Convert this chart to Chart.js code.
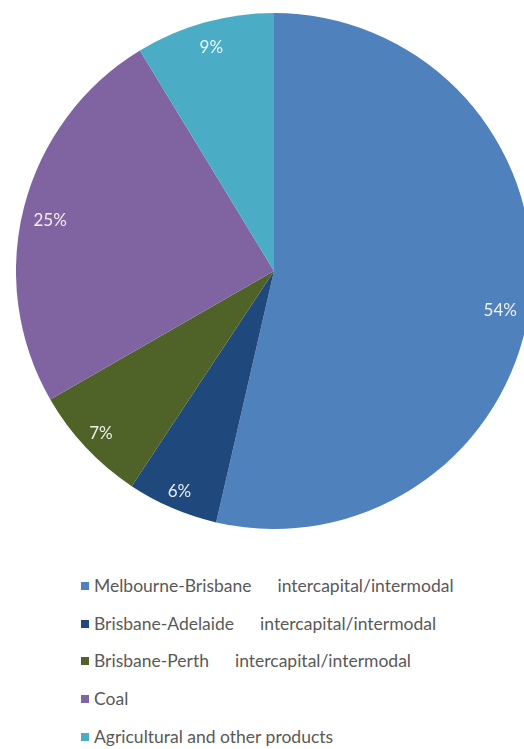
<!DOCTYPE html>
<html>
<head>
<meta charset="utf-8">
<script src="https://cdn.jsdelivr.net/npm/chart.js@4/dist/chart.umd.min.js"></script>
<style>
  html, body { margin: 0; padding: 0; background: #ffffff; width: 524px; height: 749px; overflow: hidden; position: relative; }
  #wrap { position: absolute; left: 16px; top: 13px; width: 516px; height: 516px; }
  #legend { position: absolute; left: 81px; top: 567px; font-family: Lato, "Open Sans", sans-serif; font-size: 17.5px; color: #595959; }
  .row { height: 37.7px; line-height: 37.7px; display: flex; align-items: center; white-space: pre; }
  .box { width: 8px; height: 8px; margin-right: 5px; flex: none; }
  .second { margin-left: 26px; }
</style>
</head>
<body>
<div id="wrap"><canvas id="c" width="516" height="516"></canvas></div>
<div id="legend"></div>
<script>
const routes = ["Melbourne-Brisbane", "Brisbane-Adelaide", "Brisbane-Perth", "Coal", "Agricultural and other products"];
const freightTypes = ["intercapital/intermodal", "intercapital/intermodal", "intercapital/intermodal", "", ""];
const shares = [53.6, 5.7, 7.4, 24.6, 8.7];
const percentLabels = ["54%", "6%", "7%", "25%", "9%"];
const sliceColors = ["#4F81BD", "#1F497D", "#4F6228", "#8064A2", "#4BACC6"];
const categories = routes.map((r, i) => freightTypes[i] ? r + "      " + freightTypes[i] : r);

const labelPlugin = {
  id: 'sliceLabels',
  afterDatasetsDraw(chart, args, opts) {
    const ctx = chart.ctx;
    const meta = chart.getDatasetMeta(0);
    ctx.save();
    ctx.font = '17px Lato, "Open Sans", sans-serif';
    ctx.fillStyle = 'rgba(255,255,255,0.9)';
    ctx.textAlign = 'center';
    ctx.textBaseline = 'middle';
    meta.data.forEach((arc, i) => {
      const p = arc.getProps(['x', 'y', 'startAngle', 'endAngle', 'outerRadius'], true);
      const mid = (p.startAngle + p.endAngle) / 2;
      const a = mid + opts.angleShift[i];
      const r = p.outerRadius * opts.radiusFraction[i];
      ctx.fillText(percentLabels[i], p.x + Math.cos(a) * r, p.y + Math.sin(a) * r);
    });
    ctx.restore();
  }
};

new Chart(document.getElementById('c'), {
  type: 'pie',
  data: {
    labels: categories,
    datasets: [{
      data: shares,
      backgroundColor: sliceColors,
      borderWidth: 0
    }]
  },
  options: {
    responsive: false,
    animation: false,
    layout: { padding: 0 },
    plugins: {
      legend: { display: false },
      tooltip: { enabled: false },
      sliceLabels: {
        radiusFraction: [0.89, 0.93, 0.92, 0.89, 0.9],
        angleShift: [0.058, 0, 0, -0.028, 0]
      }
    }
  },
  plugins: [labelPlugin]
});

const lg = document.getElementById('legend');
routes.forEach((name, i) => {
  const row = document.createElement('div');
  row.className = 'row';
  const box = document.createElement('span');
  box.className = 'box';
  box.style.background = sliceColors[i];
  row.appendChild(box);
  const t = document.createElement('span');
  t.textContent = name;
  row.appendChild(t);
  if (freightTypes[i]) {
    const t2 = document.createElement('span');
    t2.className = 'second';
    t2.textContent = freightTypes[i];
    row.appendChild(t2);
  }
  lg.appendChild(row);
});
</script>
</body>
</html>
